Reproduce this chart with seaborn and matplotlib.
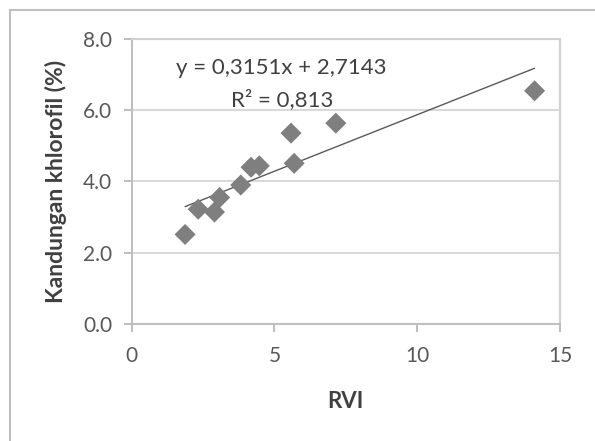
import matplotlib
matplotlib.use("Agg")
import matplotlib.pyplot as plt
import seaborn as sns
import pandas as pd
from matplotlib.patches import Rectangle

# values
rvi = [1.87, 2.33, 2.90, 3.08, 3.82, 4.18, 4.47, 5.58, 5.69, 7.15, 14.11]
khlorofil = [2.51, 3.22, 3.14, 3.55, 3.90, 4.40, 4.44, 5.36, 4.51, 5.64, 6.55]
x_ticks = [0, 5, 10, 15]
y_ticks = [0.0, 2.0, 4.0, 6.0, 8.0]
eq_text = "y = 0,3151x + 2,7143"
r2_text = "R\u00b2 = 0,813"

df = pd.DataFrame({"RVI": rvi, "khlorofil": khlorofil})

sns.set_theme(style="white")
plt.rcParams["font.family"] = ["Lato", "DejaVu Sans"]

fig = plt.figure(figsize=(5.95, 4.41), dpi=100)
ax = fig.add_axes([0.2213, 0.266, 0.7199, 0.645])

# trend line (linear fit) then the diamond markers on top
sns.regplot(data=df, x="RVI", y="khlorofil", ci=None, scatter=False, truncate=True,
            line_kws={"color": "#595959", "lw": 1.0}, ax=ax)
sns.scatterplot(data=df, x="RVI", y="khlorofil", marker="D", s=115, color="#7f7f7f",
                edgecolor="none", ax=ax, zorder=3)

ax.set_xlim(0, 15)
ax.set_ylim(0, 8)
ax.set_xticks(x_ticks)
ax.set_yticks(y_ticks)
ax.set_yticklabels([f"{v:.1f}" for v in y_ticks])

ax.grid(axis="y", color="#d9d9d9", lw=1.5)
ax.set_axisbelow(True)
for side in ["left", "bottom", "right", "top"]:
    ax.spines[side].set_color("#d0d0d0")
    ax.spines[side].set_linewidth(1.5)
ax.spines["left"].set_color("#bfbfbf")
ax.spines["bottom"].set_color("#bfbfbf")

ax.tick_params(axis="both", colors="#bfbfbf", labelcolor="#595959", labelsize=15,
               length=6, width=1.5)
ax.tick_params(axis="x", bottom=True, pad=10)
ax.tick_params(axis="y", left=True, pad=8)

ax.set_xlabel("RVI", fontsize=16, fontweight="bold", color="#404040")
ax.set_ylabel("Kandungan khlorofil (%)", fontsize=16.5, fontweight="bold", color="#404040")
ax.xaxis.set_label_coords(0.5, -0.237)
ax.yaxis.set_label_coords(-0.151, 0.5)

ax.text(5.25, 7.19, eq_text, ha="center", va="center", fontsize=16, color="#404040")
ax.text(5.28, 6.29, r2_text, ha="center", va="center", fontsize=16, color="#404040")

# outer chart frame (cropped on the right and bottom)
fig.patches.append(Rectangle((10 / 595, -0.1), 1.2, 1.1 - 10 / 441, transform=fig.transFigure,
                             fill=False, ec="#bfbfbf", lw=1.5))

fig.savefig("out.png", dpi=100)
